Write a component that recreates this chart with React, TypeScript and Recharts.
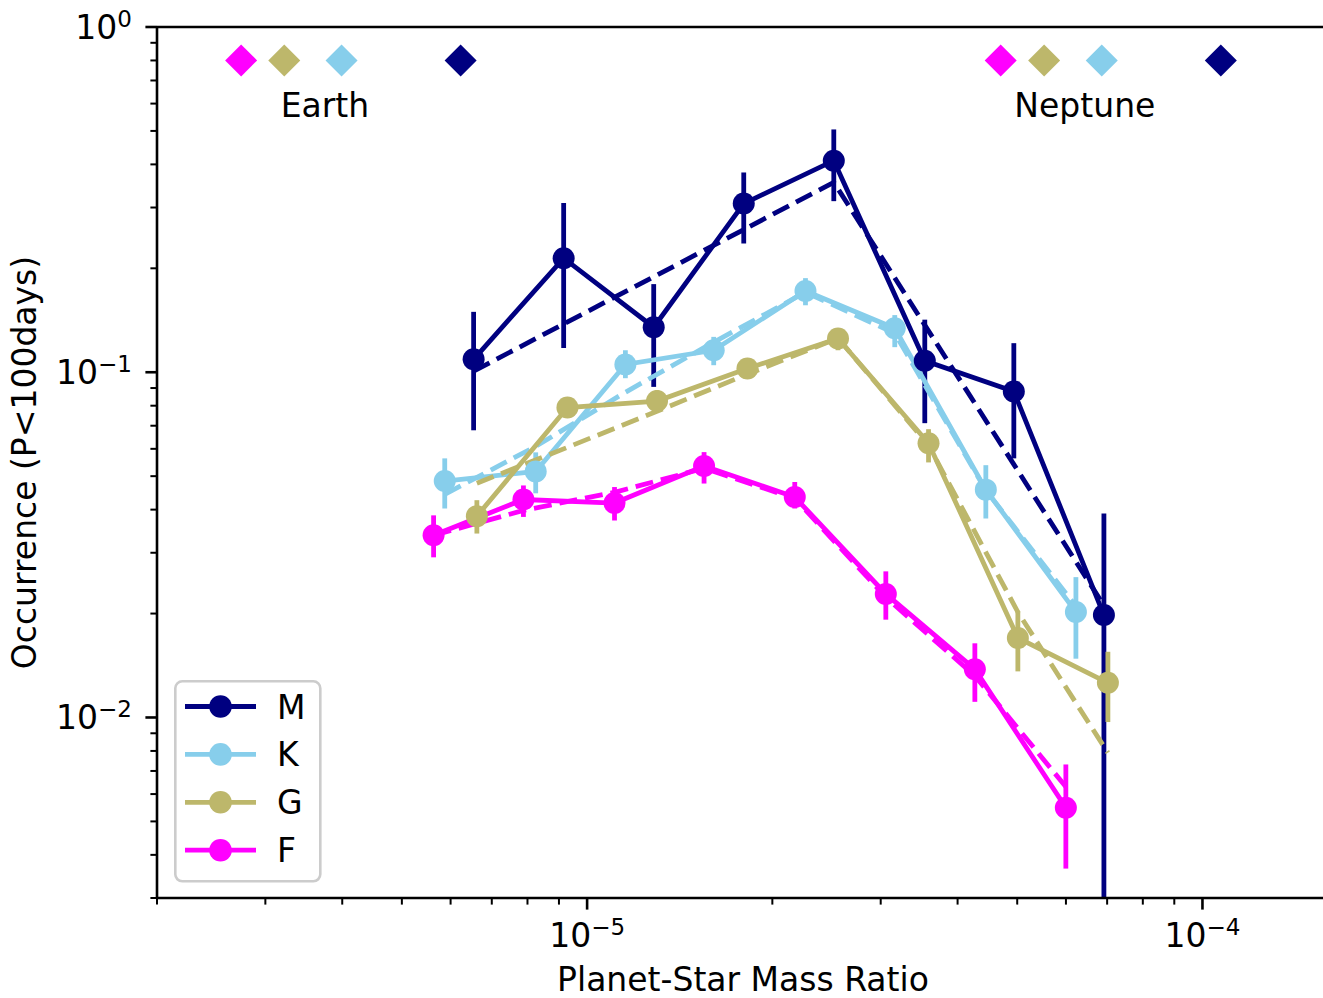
import React from 'react';
import {
  ComposedChart,
  Line,
  Scatter,
  XAxis,
  YAxis,
  ErrorBar,
  Legend,
  ReferenceLine,
} from 'recharts';

const FONT = '"DejaVu Sans", "Liberation Sans", sans-serif';

// Axis ranges (log scales)
const X_MIN = 2e-6;
const X_MAX = 1.57e-4;
const Y_MIN = 0.003;
const Y_MAX = 1;

// Stellar types, drawn in this order
const STAR_TYPES = ['M', 'K', 'G', 'F'];
const STAR_COLORS = ['#000080', '#87CEEB', '#BDB76B', '#FF00FF'];

// M dwarfs
const M_RATIO = [6.54e-6, 9.16e-6, 1.283e-5, 1.797e-5, 2.517e-5, 3.538e-5, 4.937e-5, 6.916e-5];
const M_OCC = [0.109, 0.214, 0.135, 0.308, 0.41, 0.108, 0.088, 0.0198];
const M_LOW = [0.0679, 0.1176, 0.0907, 0.236, 0.313, 0.0712, 0.0563, 0];
const M_HIGH = [0.1496, 0.309, 0.18, 0.379, 0.505, 0.142, 0.1214, 0.039];
const M_FIT = [0.1007, 0.138, 0.189, 0.259, 0.355, 0.137, 0.0541, 0.0211];

// K dwarfs
const K_RATIO = [5.87e-6, 8.25e-6, 1.154e-5, 1.606e-5, 2.264e-5, 3.162e-5, 4.446e-5, 6.228e-5];
const K_OCC = [0.0484, 0.0516, 0.1053, 0.1158, 0.172, 0.1341, 0.0457, 0.0202];
const K_LOW = [0.0403, 0.0446, 0.0961, 0.1048, 0.1563, 0.1182, 0.0377, 0.0148];
const K_HIGH = [0.0563, 0.0586, 0.1158, 0.1266, 0.1873, 0.1464, 0.0538, 0.0255];
const K_FIT = [0.0443, 0.061, 0.0875, 0.1222, 0.1705, 0.1297, 0.0455, 0.021];

// G dwarfs
const G_RATIO = [6.62e-6, 9.29e-6, 1.299e-5, 1.822e-5, 2.557e-5, 3.588e-5, 5.012e-5, 7.02e-5];
const G_OCC = [0.0383, 0.079, 0.0825, 0.1025, 0.1252, 0.0623, 0.017, 0.0126];
const G_LOW = [0.0341, 0.0751, 0.0767, 0.0974, 0.1158, 0.0548, 0.0136, 0.0097];
const G_HIGH = [0.0426, 0.0835, 0.0887, 0.1083, 0.1341, 0.0684, 0.0202, 0.0155];
const G_FIT = [0.0477, 0.0606, 0.0771, 0.0987, 0.1255, 0.0614, 0.0202, 0.0079];

// F dwarfs
const F_RATIO = [5.63e-6, 7.88e-6, 1.108e-5, 1.549e-5, 2.175e-5, 3.058e-5, 4.267e-5, 5.998e-5];
const F_OCC = [0.0337, 0.0428, 0.0418, 0.0535, 0.0435, 0.0228, 0.0138, 0.00548];
const F_LOW = [0.0291, 0.0381, 0.0372, 0.0476, 0.0403, 0.0192, 0.0111, 0.00365];
const F_HIGH = [0.0385, 0.047, 0.0465, 0.0587, 0.0481, 0.0265, 0.0164, 0.00731];
const F_FIT = [0.0337, 0.0398, 0.0449, 0.0527, 0.0431, 0.0223, 0.0132, 0.0063];

// Earth / Neptune mass ratio markers for F, G, K, M hosts
const MARKER_TYPES = ['F', 'G', 'K', 'M'];
const EARTH_MARKER_X = [2.74e-6, 3.22e-6, 3.99e-6, 6.23e-6];
const NEPTUNE_MARKER_X = [4.7e-5, 5.53e-5, 6.86e-5, 1.071e-4];
const MARKER_Y = 0.8;

const PLANET_NAMES = ['Earth', 'Neptune'];
const PLANET_NAME_X = [3.75e-6, 6.44e-5];
const PLANET_NAME_Y = 0.6;

// Tick positions
const DECADES_X = [1e-6, 1e-5, 1e-4];
const DECADES_Y = [1e-3, 1e-2, 1e-1, 1];
const MULTIPLIERS = [1, 2, 3, 4, 5, 6, 7, 8, 9];

const buildTicks = (decades: number[], lo: number, hi: number) => {
  const out: number[] = [];
  decades.forEach((d) => MULTIPLIERS.forEach((m) => {
    const v = parseFloat((d * m).toPrecision(3));
    if (v >= lo * 0.9999 && v <= hi * 1.0001) out.push(v);
  }));
  return out;
};
const X_TICKS = buildTicks(DECADES_X, X_MIN, X_MAX);
const Y_TICKS = buildTicks(DECADES_Y, Y_MIN, Y_MAX);

const colorOf = (t: string) => STAR_COLORS[STAR_TYPES.indexOf(t)];

const buildRows = (xs: number[], occ: number[], low: number[], high: number[], fit: number[]) =>
  xs.map((x, i) => ({
    x,
    occ: occ[i],
    fit: fit[i],
    err: [occ[i] - Math.max(low[i], Y_MIN), high[i] - occ[i]],
  }));

const SERIES = [
  buildRows(M_RATIO, M_OCC, M_LOW, M_HIGH, M_FIT),
  buildRows(K_RATIO, K_OCC, K_LOW, K_HIGH, K_FIT),
  buildRows(G_RATIO, G_OCC, G_LOW, G_HIGH, G_FIT),
  buildRows(F_RATIO, F_OCC, F_LOW, F_HIGH, F_FIT),
];

const MARKERS = [
  ...EARTH_MARKER_X.map((x, i) => ({ x, y: MARKER_Y, color: colorOf(MARKER_TYPES[i]) })),
  ...NEPTUNE_MARKER_X.map((x, i) => ({ x, y: MARKER_Y, color: colorOf(MARKER_TYPES[i]) })),
];
const PLANET_LABELS = PLANET_NAMES.map((name, i) => ({ x: PLANET_NAME_X[i], y: PLANET_NAME_Y, name }));

const LINE_W = 4.8;
const DOT_R = 11;

const isDecade = (v: number) => Math.abs(Math.log10(v) - Math.round(Math.log10(v))) < 1e-6;
const expText = (v: number) => {
  const e = Math.round(Math.log10(v));
  return e < 0 ? `\u2212${-e}` : `${e}`;
};

const XTick = (props: any) => {
  const { x, y, payload } = props;
  const major = isDecade(payload.value);
  return (
    <g>
      <line x1={x} x2={x} y1={y} y2={y + (major ? 11.6 : 6.6)} stroke="#000" strokeWidth={major ? 2.6 : 2} />
      {major && (
        <text x={x} y={y + 49} textAnchor="middle" fontSize={33} fontFamily={FONT} fill="#000">
          10<tspan dy={-12} fontSize={23}>{expText(payload.value)}</tspan>
        </text>
      )}
    </g>
  );
};

const YTick = (props: any) => {
  const { x, y, payload } = props;
  const major = isDecade(payload.value);
  return (
    <g>
      <line x1={x - (major ? 11.6 : 6.6)} x2={x} y1={y} y2={y} stroke="#000" strokeWidth={major ? 2.6 : 2} />
      {major && (
        <text x={x - 25} y={y + 12} textAnchor="end" fontSize={33} fontFamily={FONT} fill="#000">
          10<tspan dy={-12} fontSize={23}>{expText(payload.value)}</tspan>
        </text>
      )}
    </g>
  );
};

const Diamond = (props: any) => {
  const { cx, cy, payload } = props;
  const h = 16;
  return (
    <polygon
      points={`${cx},${cy - h} ${cx + h},${cy} ${cx},${cy + h} ${cx - h},${cy}`}
      fill={payload.color}
    />
  );
};

const PlanetName = (props: any) => {
  const { cx, cy, payload } = props;
  return (
    <text x={cx} y={cy + 13} textAnchor="middle" fontSize={33} fontFamily={FONT} fill="#000">
      {payload.name}
    </text>
  );
};

const LegendBox = () => (
  <svg width={148} height={203} style={{ display: 'block', overflow: 'visible' }}>
    <rect x={1.3} y={1.3} width={145} height={200} rx={7} ry={7} fill="#fff" fillOpacity={0.8} stroke="#cccccc" strokeWidth={2.6} />
    {STAR_TYPES.map((t, i) => {
      const cy = 26.5 + i * 47.9;
      return (
        <g key={t}>
          <line x1={11} x2={82} y1={cy} y2={cy} stroke={STAR_COLORS[i]} strokeWidth={LINE_W} />
          <circle cx={46.5} cy={cy} r={11.3} fill={STAR_COLORS[i]} />
          <text x={103} y={cy + 12} fontSize={33} fontFamily={FONT} fill="#000">{t}</text>
        </g>
      );
    })}
  </svg>
);

export default function App() {
  return (
    <div style={{ position: 'absolute', left: 0, top: 0, background: '#fff' }}>
      <ComposedChart width={1323} height={998} margin={{ top: 27, right: 0, bottom: 0, left: 0 }}>
        <XAxis
          dataKey="x"
          type="number"
          scale="log"
          domain={[X_MIN, X_MAX]}
          allowDataOverflow
          ticks={X_TICKS}
          interval={0}
          tickSize={0}
          tickMargin={0}
          tickLine={false}
          tick={<XTick />}
          height={100}
          axisLine={{ stroke: '#000', strokeWidth: 2.6 }}
          label={(p: any) => {
            const vb = p.viewBox;
            return (
              <text x={vb.x + vb.width / 2 + 3} y={991} textAnchor="middle" fontSize={33} fontFamily={FONT} fill="#000">
                Planet-Star Mass Ratio
              </text>
            );
          }}
        />
        <YAxis
          type="number"
          scale="log"
          domain={[Y_MIN, Y_MAX]}
          allowDataOverflow
          ticks={Y_TICKS}
          interval={0}
          tickSize={0}
          tickMargin={0}
          tickLine={false}
          tick={<YTick />}
          width={157}
          axisLine={{ stroke: '#000', strokeWidth: 2.6 }}
          label={(p: any) => {
            const vb = p.viewBox;
            const cy = vb.y + vb.height / 2;
            return (
              <text x={36} y={cy} transform={`rotate(-90, 36, ${cy})`} textAnchor="middle" fontSize={33} fontFamily={FONT} fill="#000">
                Occurrence (P&lt;100days)
              </text>
            );
          }}
        />
        <ReferenceLine y={Y_MAX} stroke="#000" strokeWidth={2.6} />

        {SERIES.map((rows, i) => [
          <Line
            key={`${STAR_TYPES[i]}-obs`}
            data={rows}
            dataKey="occ"
            name={STAR_TYPES[i]}
            stroke={STAR_COLORS[i]}
            strokeWidth={LINE_W}
            dot={{ r: DOT_R, fill: STAR_COLORS[i], stroke: 'none' }}
            activeDot={false}
            isAnimationActive={false}
          >
            <ErrorBar dataKey="err" direction="y" width={0} stroke={STAR_COLORS[i]} strokeWidth={LINE_W} isAnimationActive={false} />
          </Line>,
          <Line
            key={`${STAR_TYPES[i]}-fit`}
            data={rows}
            dataKey="fit"
            legendType="none"
            stroke={STAR_COLORS[i]}
            strokeWidth={LINE_W}
            strokeDasharray="18 8"
            dot={false}
            activeDot={false}
            isAnimationActive={false}
          />,
        ])}

        <Scatter data={MARKERS} dataKey="y" legendType="none" shape={<Diamond />} isAnimationActive={false} />
        <Scatter data={PLANET_LABELS} dataKey="y" legendType="none" shape={<PlanetName />} isAnimationActive={false} />

        <Legend
          layout="vertical"
          align="center"
          verticalAlign="middle"
          wrapperStyle={{ left: 174, top: 680, width: 148, height: 203 }}
          content={() => <LegendBox />}
        />
      </ComposedChart>
    </div>
  );
}
